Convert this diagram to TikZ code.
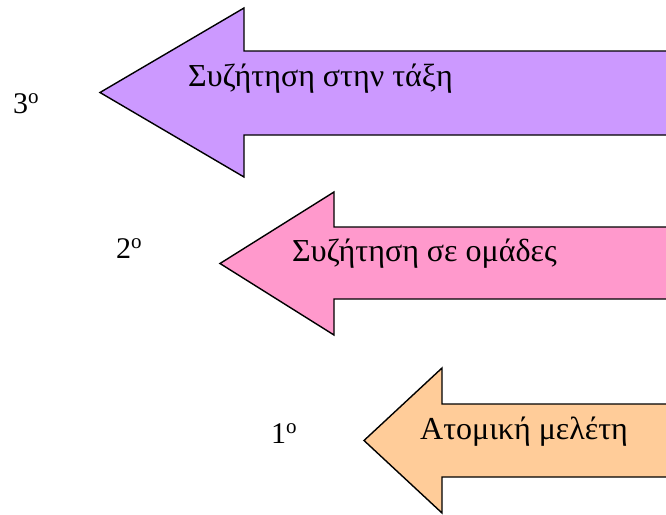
\documentclass[tikz,border=0pt]{standalone}
\usepackage{fontspec}
\setmainfont{Liberation Serif}
\definecolor{lilac}{HTML}{CC99FF}
\definecolor{rosepink}{HTML}{FF99CC}
\definecolor{peach}{HTML}{FFCC99}

\begin{document}
\begin{tikzpicture}[
		x=1pt, y=-1pt,
		banner/.style={draw=black, line width=1.4pt, line join=miter},
		caption/.style={font=\fontsize{32}{36}\selectfont, anchor=base west, inner sep=0pt},
		rank/.style={font=\fontsize{30}{34}\selectfont, anchor=base west, inner sep=0pt}
		]
		\useasboundingbox (0,0) rectangle (666,514);
		\clip (0,0) rectangle (666,514);
		
		% --- Third step: whole class ---
		\draw[banner, fill=lilac] (100,92.5) -- (244,8) -- (244,51) -- (680,51)
		-- (680,135) -- (244,135) -- (244,177) -- cycle;
		\node[caption] (class) at (188,86) {Συζήτηση στην τάξη};
		\node[rank] (third) at (13,113) {3\textsuperscript{o}};
		
		% --- Second step: groups ---
		\draw[banner, fill=rosepink] (220,263.5) -- (334,192) -- (334,227) -- (680,227)
		-- (680,299) -- (334,299) -- (334,335) -- cycle;
		\node[caption] (groups) at (292,261) {Συζήτηση σε ομάδες};
		\node[rank] (second) at (116,258) {2\textsuperscript{o}};
		
		% --- First step: individual ---
		\draw[banner, fill=peach] (364,440.5) -- (442,368) -- (442,404) -- (680,404)
		-- (680,477) -- (442,477) -- (442,513) -- cycle;
		\node[caption] (alone) at (420,439) {Ατομική μελέτη};
		\node[rank] (first) at (271,443) {1\textsuperscript{o}};
		
	\end{tikzpicture}
\end{document}
